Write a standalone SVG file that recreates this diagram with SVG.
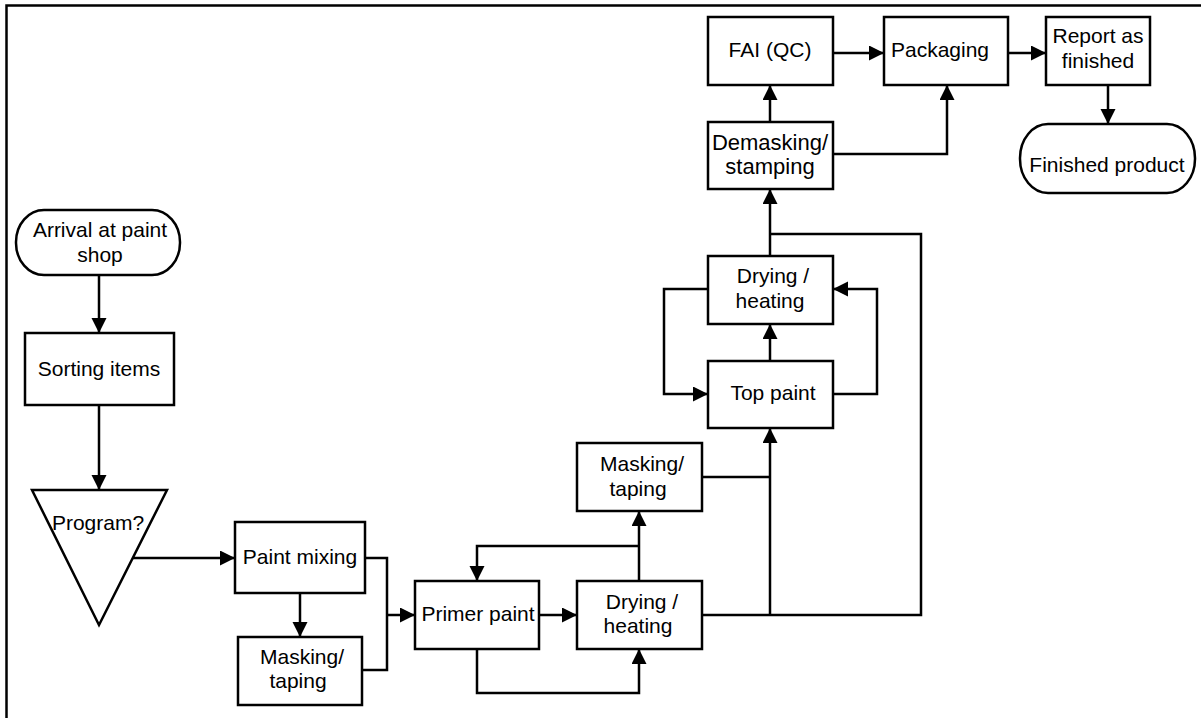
<svg xmlns="http://www.w3.org/2000/svg" width="1201" height="718" viewBox="0 0 1201 718">
<style>
.box{fill:#fff;stroke:#000;stroke-width:2.5}
.t{font-family:"Liberation Sans",Arial,sans-serif;font-size:21px;fill:#000;text-anchor:middle}
.t22{font-size:22px}
.c{fill:none;stroke:#000;stroke-width:2.5}
.frame{fill:none;stroke:#000;stroke-width:2.5}
</style>
<defs>
<marker id="ah" markerUnits="userSpaceOnUse" markerWidth="16" markerHeight="16" refX="15" refY="7.5" orient="auto">
<path d="M0,0 L15,7.5 L0,15 z" fill="#000"/>
</marker>
</defs>
<rect width="1201" height="718" fill="#fff"/>
<path class="frame" d="M6.5,718 V5.5 H1201"/>

<g id="connectors">
<path class="c" d="M99,275 V333" marker-end="url(#ah)"/>
<path class="c" d="M99,405 V490" marker-end="url(#ah)"/>
<path class="c" d="M133,558 H235" marker-end="url(#ah)"/>
<path class="c" d="M300,593 V637" marker-end="url(#ah)"/>
<path class="c" d="M365,558 H387 V670 H362"/>
<path class="c" d="M387,615 H415" marker-end="url(#ah)"/>
<path class="c" d="M539,615 H577" marker-end="url(#ah)"/>
<path class="c" d="M477,649 V693 H639 V649" marker-end="url(#ah)"/>
<path class="c" d="M639,581 V511" marker-end="url(#ah)"/>
<path class="c" d="M639,546 H477 V581" marker-end="url(#ah)"/>
<path class="c" d="M702,477 H770"/>
<path class="c" d="M702,615 H921 V234 H770"/>
<path class="c" d="M770,615 V428" marker-end="url(#ah)"/>
<path class="c" d="M770,361 V324" marker-end="url(#ah)"/>
<path class="c" d="M708,289 H664 V394 H708" marker-end="url(#ah)"/>
<path class="c" d="M833,394 H877 V289 H833" marker-end="url(#ah)"/>
<path class="c" d="M770,256 V189" marker-end="url(#ah)"/>
<path class="c" d="M770,122 V85" marker-end="url(#ah)"/>
<path class="c" d="M833,154 H947 V85" marker-end="url(#ah)"/>
<path class="c" d="M833,53 H884" marker-end="url(#ah)"/>
<path class="c" d="M1008,53 H1046" marker-end="url(#ah)"/>
<path class="c" d="M1108,85 V124" marker-end="url(#ah)"/>
</g>

<g id="arrival">
<rect class="box" x="16" y="210" width="164" height="65" rx="28" ry="32"/>
<text class="t" x="100" y="237">Arrival at paint</text>
<text class="t" x="100" y="262">shop</text>
</g>
<g id="sorting">
<rect class="box" x="25" y="333" width="149" height="72"/>
<text class="t" x="99" y="376">Sorting items</text>
</g>
<g id="program">
<polygon class="box" points="32,490 167,490 99,625"/>
<text class="t" x="98" y="530">Program?</text>
</g>
<g id="paint-mixing">
<rect class="box" x="235" y="522" width="130" height="71"/>
<text class="t" x="300" y="564">Paint mixing</text>
</g>
<g id="masking-1">
<rect class="box" x="238" y="637" width="124" height="68"/>
<text class="t" x="302" y="664">Masking/</text>
<text class="t" x="298" y="688">taping</text>
</g>
<g id="primer-paint">
<rect class="box" x="415" y="581" width="124" height="68"/>
<text class="t" x="478" y="621">Primer paint</text>
</g>
<g id="drying-1">
<rect class="box" x="577" y="581" width="125" height="68"/>
<text class="t" x="642" y="609">Drying /</text>
<text class="t" x="638" y="633">heating</text>
</g>
<g id="masking-2">
<rect class="box" x="577" y="443" width="125" height="68"/>
<text class="t" x="642" y="471">Masking/</text>
<text class="t" x="638" y="496">taping</text>
</g>
<g id="top-paint">
<rect class="box" x="708" y="361" width="125" height="67"/>
<text class="t" x="773" y="400">Top paint</text>
</g>
<g id="drying-2">
<rect class="box" x="708" y="256" width="125" height="68"/>
<text class="t" x="773" y="283">Drying /</text>
<text class="t" x="770" y="308">heating</text>
</g>
<g id="demasking">
<rect class="box" x="708" y="122" width="125" height="67"/>
<text class="t t22" x="770" y="150">Demasking/</text>
<text class="t t22" x="770" y="174">stamping</text>
</g>
<g id="fai">
<rect class="box" x="708" y="17" width="125" height="68"/>
<text class="t" x="770" y="57">FAI (QC)</text>
</g>
<g id="packaging">
<rect class="box" x="884" y="17" width="124" height="68"/>
<text class="t" x="940" y="57">Packaging</text>
</g>
<g id="report">
<rect class="box" x="1046" y="17" width="104" height="68"/>
<text class="t" x="1098" y="43">Report as</text>
<text class="t" x="1098" y="68">finished</text>
</g>
<g id="finished-product">
<rect class="box" x="1020" y="124" width="175" height="69" rx="28" ry="34"/>
<text class="t" x="1107" y="172">Finished product</text>
</g>
</svg>
